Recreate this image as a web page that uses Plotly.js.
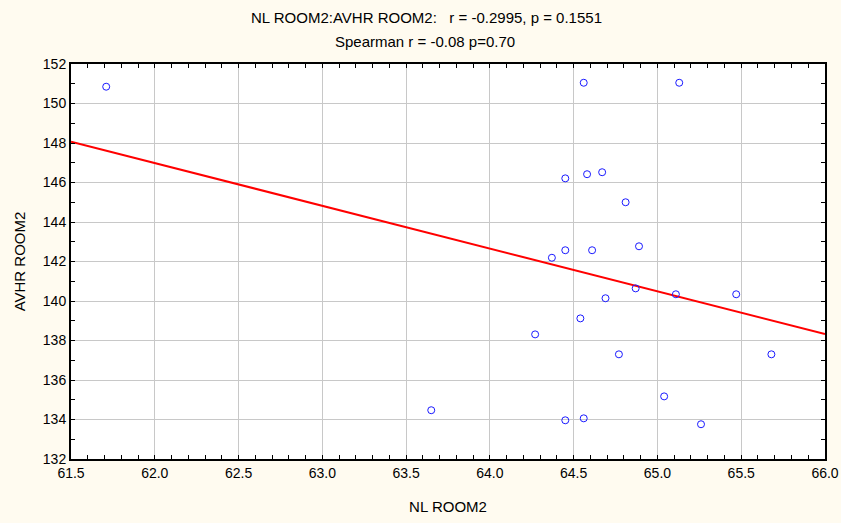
<!DOCTYPE html>
<html>
<head>
<meta charset="utf-8">
<script src="https://cdn.plot.ly/plotly-3.0.1.min.js"></script>
<style>html,body{margin:0;padding:0;background:#fffbf0;}#chart{width:841px;height:523px;}</style>
</head>
<body>
<div id="chart"></div>
<script>
var nlRoom2 = [61.71, 64.56, 65.13, 64.45, 64.58, 64.67, 64.81, 64.45, 64.61, 64.89, 64.37, 64.87,
               65.11, 65.47, 64.69, 64.54, 64.27, 64.77, 65.68, 65.04, 63.65, 64.45, 64.56, 65.26];
var avhrRoom2 = [150.85, 151.05, 151.05, 146.21, 146.42, 146.52, 145.00, 142.57, 142.57, 142.77, 142.19, 140.64,
                 140.34, 140.34, 140.14, 139.12, 138.31, 137.30, 137.30, 135.17, 134.47, 133.96, 134.06, 133.76];
var xRange = [61.5, 66.0];
var yRange = [132, 152];
var titleLine1 = "NL ROOM2:AVHR ROOM2:   r = -0.2995, p = 0.1551";
var titleLine2 = "Spearman r = -0.08 p=0.70";

// least squares fit
var n = nlRoom2.length, mx = 0, my = 0;
for (var i = 0; i < n; i++) { mx += nlRoom2[i]; my += avhrRoom2[i]; }
mx /= n; my /= n;
var sxy = 0, sxx = 0;
for (var i = 0; i < n; i++) { sxy += (nlRoom2[i]-mx)*(avhrRoom2[i]-my); sxx += (nlRoom2[i]-mx)*(nlRoom2[i]-mx); }
var slope = sxy/sxx, icpt = my - slope*mx;
var fitX = xRange.slice();
var fitY = fitX.map(function(x){ return icpt + slope*x; });

var F = "Liberation Sans Narrow, Arial Narrow, Liberation Sans, Arial, sans-serif";
var traces = [
  {x: fitX, y: fitY, mode: 'lines', line: {color: '#ff0000', width: 2}, hoverinfo: 'skip'},
  {x: nlRoom2, y: avhrRoom2, mode: 'markers', marker: {symbol: 'circle-open', size: 7, color: '#1a1aff', line: {width: 1, color: '#1a1aff'}}}
];
var axCommon = {
  showgrid: true, gridcolor: '#c8c8c8', gridwidth: 1,
  showline: true, linecolor: '#000000', linewidth: 2, mirror: 'allticks',
  ticks: 'inside', ticklen: 4, tickwidth: 1, tickcolor: '#000',
  zeroline: false, tickfont: {family: F, size: 14, color: '#000'}
};
var layout = {
  width: 841, height: 523,
  paper_bgcolor: '#fffbf0', plot_bgcolor: '#ffffff',
  showlegend: false,
  margin: {l: 71, r: 16, t: 64, b: 64},
  xaxis: Object.assign({}, axCommon, {range: xRange, dtick: 0.5, tick0: 61.5, tickformat: '.1f',
    minor: {dtick: 0.1, ticks: 'inside', ticklen: 4, tickcolor: '#000', showgrid: false},
    title: {text: 'NL ROOM2', font: {family: F, size: 15, color: '#000'}, standoff: 22}}),
  yaxis: Object.assign({}, axCommon, {range: yRange, dtick: 2, tick0: 132,
    minor: {dtick: 1, ticks: 'inside', ticklen: 4, tickcolor: '#000', showgrid: false},
    title: {text: 'AVHR ROOM2', font: {family: F, size: 15, color: '#000'}, standoff: 14}}),
  annotations: [
    {text: titleLine1, xref: 'paper', yref: 'paper', x: 0.472, y: 1.1177, xanchor: 'center', yanchor: 'middle', showarrow: false, font: {family: F, size: 15, color: '#000'}},
    {text: titleLine2, xref: 'paper', yref: 'paper', x: 0.469, y: 1.0557, xanchor: 'center', yanchor: 'middle', showarrow: false, font: {family: F, size: 15, color: '#000'}}
  ]
};
Plotly.newPlot('chart', traces, layout, {displayModeBar: false, staticPlot: true});
</script>
</body>
</html>
